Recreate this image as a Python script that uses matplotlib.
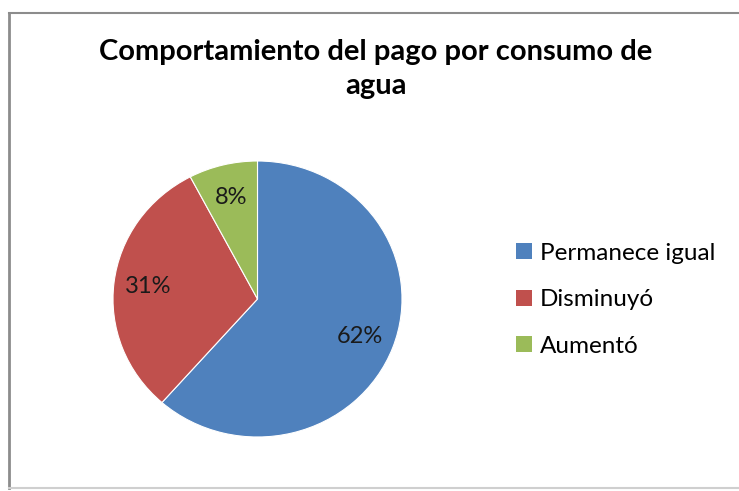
import matplotlib
matplotlib.use("Agg")
import matplotlib.pyplot as plt
from matplotlib.lines import Line2D
from matplotlib.patches import Patch

plt.rcParams['font.family'] = ['Lato', 'DejaVu Sans']

categories = ["Permanece igual", "Disminuyó", "Aumentó"]
values = [61.5, 30.8, 7.7]
pct_labels = ["62%", "31%", "8%"]
colors = ["#4F81BD", "#C0504D", "#9BBB59"]
title = "Comportamiento del pago por consumo de\nagua"

W, H = 739, 491
fig = plt.figure(figsize=(W / 100, H / 100), dpi=100)
fig.patch.set_facecolor("white")

# chart frame
def fx(x): return x / W
def fy(y): return 1 - y / H
fig.add_artist(Line2D([fx(9), fx(9)], [fy(13), fy(488)], color="#8c8c8c", lw=2))
fig.add_artist(Line2D([fx(9), fx(739)], [fy(13), fy(13)], color="#8c8c8c", lw=1.5))
fig.add_artist(Line2D([fx(9), fx(739)], [fy(488), fy(488)], color="#cfcfcf", lw=1.5))

# pie axes
left, right, top, bottom = 113, 402, 161, 437
ax = fig.add_axes([fx(left), fy(bottom), (right - left) / W, (bottom - top) / H])
wedges, texts = ax.pie(values, colors=colors, startangle=90, counterclock=False,
                       labels=pct_labels, labeldistance=0.76,
                       wedgeprops=dict(edgecolor="white", linewidth=0.8),
                       textprops=dict(fontsize=17, color="#1a1a1a"))
for t in texts:
    t.set_ha("center")
    t.set_va("center")
ax.set_aspect("auto")
ax.set_xlim(-1, 1)
ax.set_ylim(-1, 1)

fig.text(fx(376), fy(69), title, ha="center", va="center", fontsize=21,
         fontweight="bold", linespacing=1.35, color="black")

handles = [Patch(facecolor=c, edgecolor="none") for c in colors]
fig.legend(handles, categories, loc="upper left", bbox_to_anchor=(fx(506), fy(233)),
           frameon=False, fontsize=17.5, handlelength=0.65, handleheight=0.65,
           handletextpad=0.35, labelspacing=1.05, borderaxespad=0)

fig.savefig("out.png", dpi=100, facecolor="white")
